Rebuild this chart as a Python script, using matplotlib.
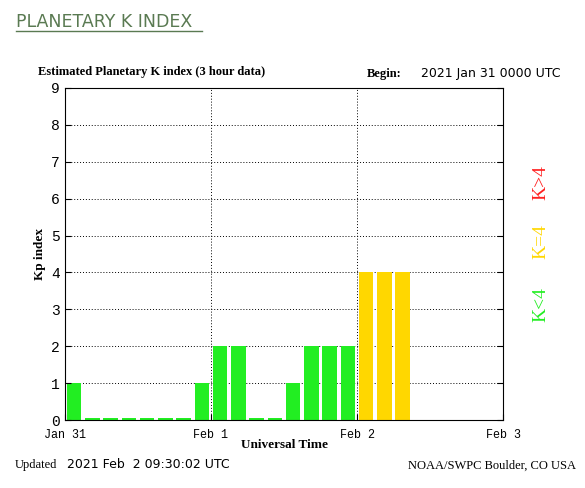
import matplotlib
matplotlib.use("Agg")
import matplotlib.pyplot as plt

kp = [1,0.06,0.06,0.06,0.06,0.06,0.06,1, 2,2,0.06,0.06,1,2,2,2, 4,4,4]
day_labels = ["Jan 31","Feb 1","Feb 2","Feb 3"]
yticks = list(range(10))

fig = plt.figure(figsize=(5.85,4.88), dpi=100)
fig.text(0.027, 0.955, "PLANETARY K INDEX", fontsize=12.5, color="#5a7a52",
         family="DejaVu Sans", ha="left", va="center")
fig.add_artist(plt.Line2D([0.027,0.345],[0.936,0.936], color="#5a7a52", lw=1))
ax = fig.add_axes([0.111, 0.139, 0.749, 0.681])
mono = dict(family="Liberation Mono")
for i, v in enumerate(kp):
    c = "#ff2020" if v > 4 else ("#ffd700" if v == 4 else "#22ee22")
    ax.bar(i/8 + 1/16, v, width=0.8/8, color=c)
ax.set_xlim(0,3); ax.set_ylim(0,9)
ax.set_yticks(yticks)
ax.set_xticks([0,1,2,3]); ax.set_xticklabels(day_labels, fontsize=8.5, **mono)
ax.tick_params(axis="x", pad=6)
ax.set_yticklabels([str(t) for t in yticks], fontsize=10.5, **mono)
for t in yticks[1:]:
    ax.axhline(t, color="black", ls=(0,(1,2)), lw=0.7, zorder=0)
for d in [1,2]:
    ax.axvline(d, color="black", ls=(0,(1,2)), lw=0.7, zorder=0)
ax.tick_params(direction="in", length=4, right=True, top=False)
ax.set_ylabel("Kp index", fontsize=9.5, fontweight="bold", family="Liberation Serif")
ax.set_xlabel("Universal Time", fontsize=9.5, fontweight="bold", labelpad=-1, family="Liberation Serif")
fig.text(0.065, 0.847, "Estimated Planetary K index (3 hour data)", fontsize=9, fontweight="bold", family="Liberation Serif")
fig.text(0.627, 0.843, "Begin:", fontsize=9, fontweight="bold", family="Liberation Serif")
fig.text(0.72, 0.843, "2021 Jan 31 0000 UTC", fontsize=9, family="DejaVu Sans")
fig.text(0.025, 0.04, "Updated", fontsize=9, family="Liberation Serif")
fig.text(0.115, 0.04, "2021 Feb  2 09:30:02 UTC", fontsize=9, family="DejaVu Sans")
fig.text(0.985, 0.04, "NOAA/SWPC Boulder, CO USA", fontsize=9, ha="right", family="Liberation Serif")
fig.text(0.925, 0.375, "K<4", color="#22ee22", rotation=90, fontsize=14, ha="center", va="center", family="Liberation Serif")
fig.text(0.925, 0.505, "K=4", color="#ffd700", rotation=90, fontsize=14, ha="center", va="center", family="Liberation Serif")
fig.text(0.925, 0.625, "K>4", color="#ff2020", rotation=90, fontsize=14, ha="center", va="center", family="Liberation Serif")
fig.savefig("out.png", dpi=100)
